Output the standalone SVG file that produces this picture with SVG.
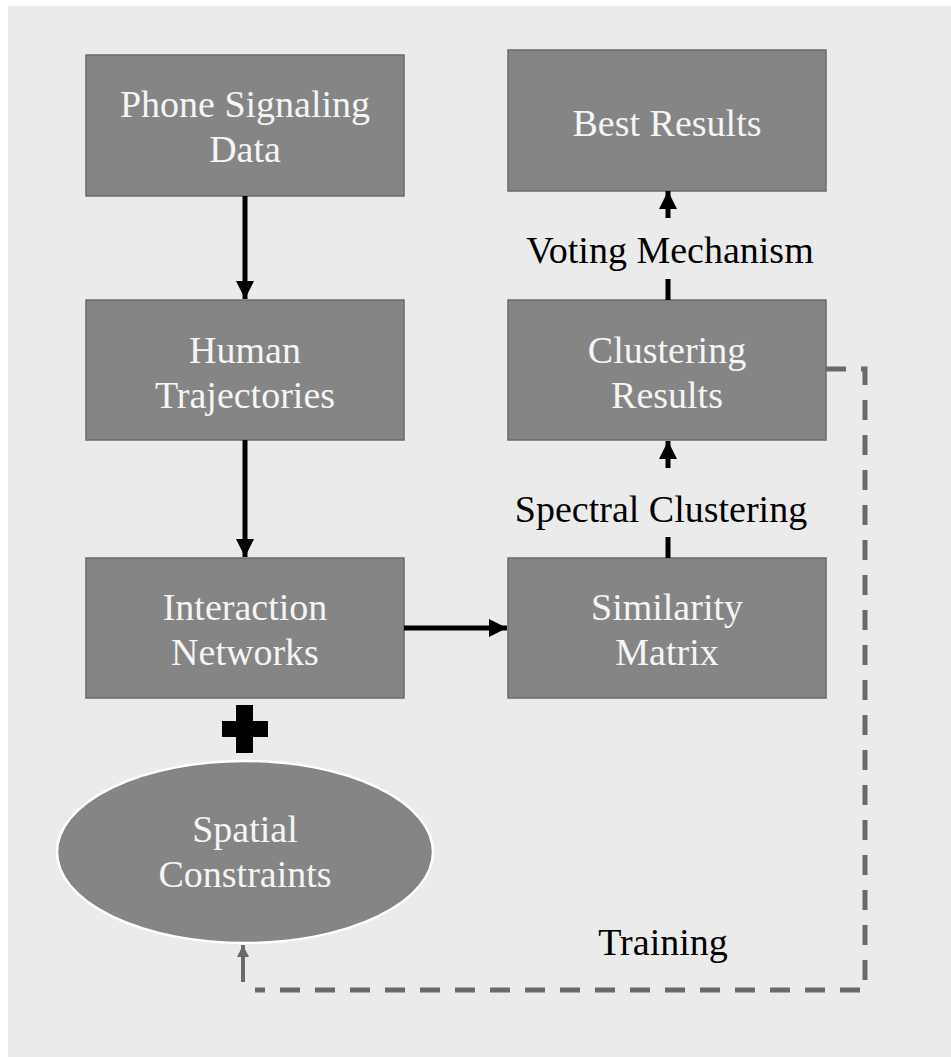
<svg xmlns="http://www.w3.org/2000/svg" width="951" height="1057" viewBox="0 0 951 1057">
  <style>
    .box { fill: #858585; stroke: #6b6b6b; stroke-width: 1.5; }
    .oval { fill: #858585; stroke: #ffffff; stroke-width: 2.5; }
    .nt { font-family: "Liberation Serif", "Times New Roman", serif; font-size: 38px; fill: #f5f5f5; text-anchor: middle; }
    .lt { font-family: "Liberation Serif", "Times New Roman", serif; font-size: 38px; fill: #000000; text-anchor: middle; }
    .solid { stroke: #000000; stroke-width: 5; fill: none; }
    .dash { stroke: #6a6a6a; stroke-width: 5; fill: none; stroke-dasharray: 20 15; }
  </style>
  <defs>
    <marker id="ahBlack" viewBox="0 0 18 18" refX="18" refY="9" markerWidth="18" markerHeight="18" markerUnits="userSpaceOnUse" orient="auto">
      <path d="M0,0 L18,9 L0,18 Z" fill="#000000"/>
    </marker>
    <marker id="ahGray" viewBox="0 0 12 12" refX="12" refY="6" markerWidth="12" markerHeight="12" markerUnits="userSpaceOnUse" orient="auto">
      <path d="M0,0 L12,6 L0,12 Z" fill="#6a6a6a"/>
    </marker>
  </defs>

  <!-- background panel -->
  <rect x="0" y="0" width="951" height="1057" fill="#ffffff"/>
  <rect x="8" y="6" width="943" height="1051" fill="#ebebeb"/>

  <g id="phone-signaling-data">
    <rect class="box" x="86" y="55" width="318" height="141"/>
    <text class="nt" x="245" y="117">Phone Signaling</text>
    <text class="nt" x="245" y="162">Data</text>
  </g>

  <g id="human-trajectories">
    <rect class="box" x="86" y="300" width="318" height="140"/>
    <text class="nt" x="245" y="363">Human</text>
    <text class="nt" x="245" y="408">Trajectories</text>
  </g>

  <g id="interaction-networks">
    <rect class="box" x="86" y="558" width="318" height="140"/>
    <text class="nt" x="245" y="620">Interaction</text>
    <text class="nt" x="245" y="665">Networks</text>
  </g>

  <g id="similarity-matrix">
    <rect class="box" x="508" y="558" width="318" height="140"/>
    <text class="nt" x="667" y="620">Similarity</text>
    <text class="nt" x="667" y="665">Matrix</text>
  </g>

  <g id="clustering-results">
    <rect class="box" x="508" y="300" width="318" height="140"/>
    <text class="nt" x="667" y="363">Clustering</text>
    <text class="nt" x="667" y="408">Results</text>
  </g>

  <g id="best-results">
    <rect class="box" x="508" y="50" width="318" height="141"/>
    <text class="nt" x="667" y="136">Best Results</text>
  </g>

  <g id="spatial-constraints">
    <ellipse class="oval" cx="245" cy="852" rx="188" ry="91"/>
    <text class="nt" x="245" y="842">Spatial</text>
    <text class="nt" x="245" y="887">Constraints</text>
  </g>

  <g id="plus">
    <path d="M236,705 H253 V721 H268 V737 H253 V753 H236 V737 H222 V721 H236 Z" fill="#000000"/>
  </g>

  <g id="connectors">
    <!-- main pipeline -->
    <line class="solid" x1="245" y1="196" x2="245" y2="299" marker-end="url(#ahBlack)"/>
    <line class="solid" x1="245" y1="440" x2="245" y2="557" marker-end="url(#ahBlack)"/>
    <line class="solid" x1="404" y1="628" x2="507" y2="628" marker-end="url(#ahBlack)"/>

    <!-- spectral clustering -->
    <line class="solid" x1="668" y1="537" x2="668" y2="558"/>
    <line class="solid" x1="668" y1="468" x2="668" y2="441" marker-end="url(#ahBlack)"/>
    <text class="lt" x="661" y="522">Spectral Clustering</text>

    <!-- voting mechanism -->
    <line class="solid" x1="668" y1="279" x2="668" y2="300"/>
    <line class="solid" x1="668" y1="218" x2="668" y2="191" marker-end="url(#ahBlack)"/>
    <text class="lt" x="670" y="263">Voting Mechanism</text>

    <!-- training feedback -->
    <path class="dash" d="M826,369 H865 V990 H255"/>
    <line x1="243" y1="982" x2="243" y2="945" stroke="#6a6a6a" stroke-width="4" marker-end="url(#ahGray)"/>
    <text class="lt" x="663" y="955">Training</text>
  </g>
</svg>
